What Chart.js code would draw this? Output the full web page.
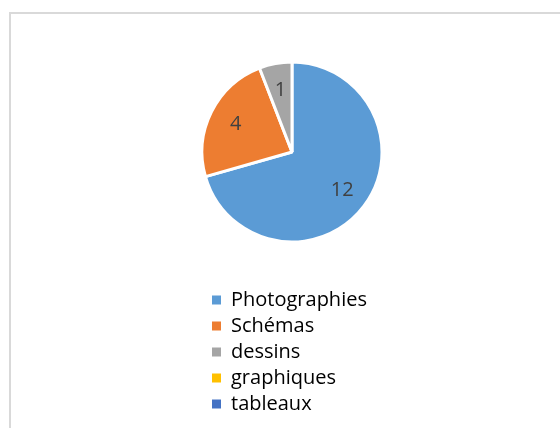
<!DOCTYPE html>
<html>
<head>
<meta charset="utf-8">
<script src="https://cdn.jsdelivr.net/npm/chart.js@4/dist/chart.umd.min.js"></script>
<style>
    body { margin: 0; width: 560px; height: 428px; overflow: hidden; background: #fff; position: relative; }
    .frame { position: absolute; left: 9px; top: 12px; width: 600px; height: 500px; border-left: 2px solid #d9d9d9; border-top: 2px solid #d9d9d9; }
    .chart-box { position: absolute; left: 180px; top: 0; width: 224px; height: 428px; }
</style>
</head>
<body>
<div class="frame"></div>
<div class="chart-box"><canvas id="pieChart"></canvas></div>
<script>
const categories = ["Photographies", "Schémas", "dessins", "graphiques", "tableaux"]
const counts = [12, 4, 1, 0, 0]
const sliceColors = ["#5B9BD5", "#ED7D31", "#A5A5A5", "#FFC000", "#4472C4"]

Chart.defaults.font.family = "'Open Sans', sans-serif"

//write the value on each slice, a bit out from the middle
const sliceLabels = {
    id: 'sliceLabels',
    afterDatasetsDraw(chart){
        const ctx = chart.ctx
        const meta = chart.getDatasetMeta(0)
        ctx.save()
        ctx.font = "20px 'Open Sans', sans-serif"
        ctx.fillStyle = "#404040"
        ctx.textAlign = "center"
        ctx.textBaseline = "middle"
        meta.data.forEach((arc, i) => {
            const value = counts[i]
            if(!value) return
            const {x, y, startAngle, endAngle, outerRadius} = arc.getProps(['x', 'y', 'startAngle', 'endAngle', 'outerRadius'], true)
            const mid = (startAngle + endAngle) / 2
            const dist = outerRadius * 0.7
            ctx.fillText(value, x + Math.cos(mid) * dist, y + Math.sin(mid) * dist)
        })
        ctx.restore()
    }
}

new Chart(document.getElementById('pieChart'), {
    type: 'pie',
    data: {
        labels: categories,
        datasets: [{
            data: counts,
            backgroundColor: sliceColors,
            borderColor: "#FFFFFF",
            borderWidth: 3
        }]
    },
    options: {
        responsive: true,
        maintainAspectRatio: false,
        animation: false,
        radius: 90,
        layout: {
            padding: {left: 26, right: 26, top: 20, bottom: 4}
        },
        plugins: {
            tooltip: { enabled: false },
            legend: {
                position: 'bottom',
                align: 'start',
                labels: {
                    boxWidth: 9,
                    boxHeight: 9,
                    padding: 6,
                    color: "#595959",
                    font: { size: 20 },
                    generateLabels: () => categories.map((name, i) => ({
                        text: name,
                        fillStyle: sliceColors[i],
                        strokeStyle: sliceColors[i],
                        lineWidth: 0,
                        hidden: false,
                        index: i
                    }))
                }
            }
        }
    },
    plugins: [sliceLabels]
})
</script>
</body>
</html>
